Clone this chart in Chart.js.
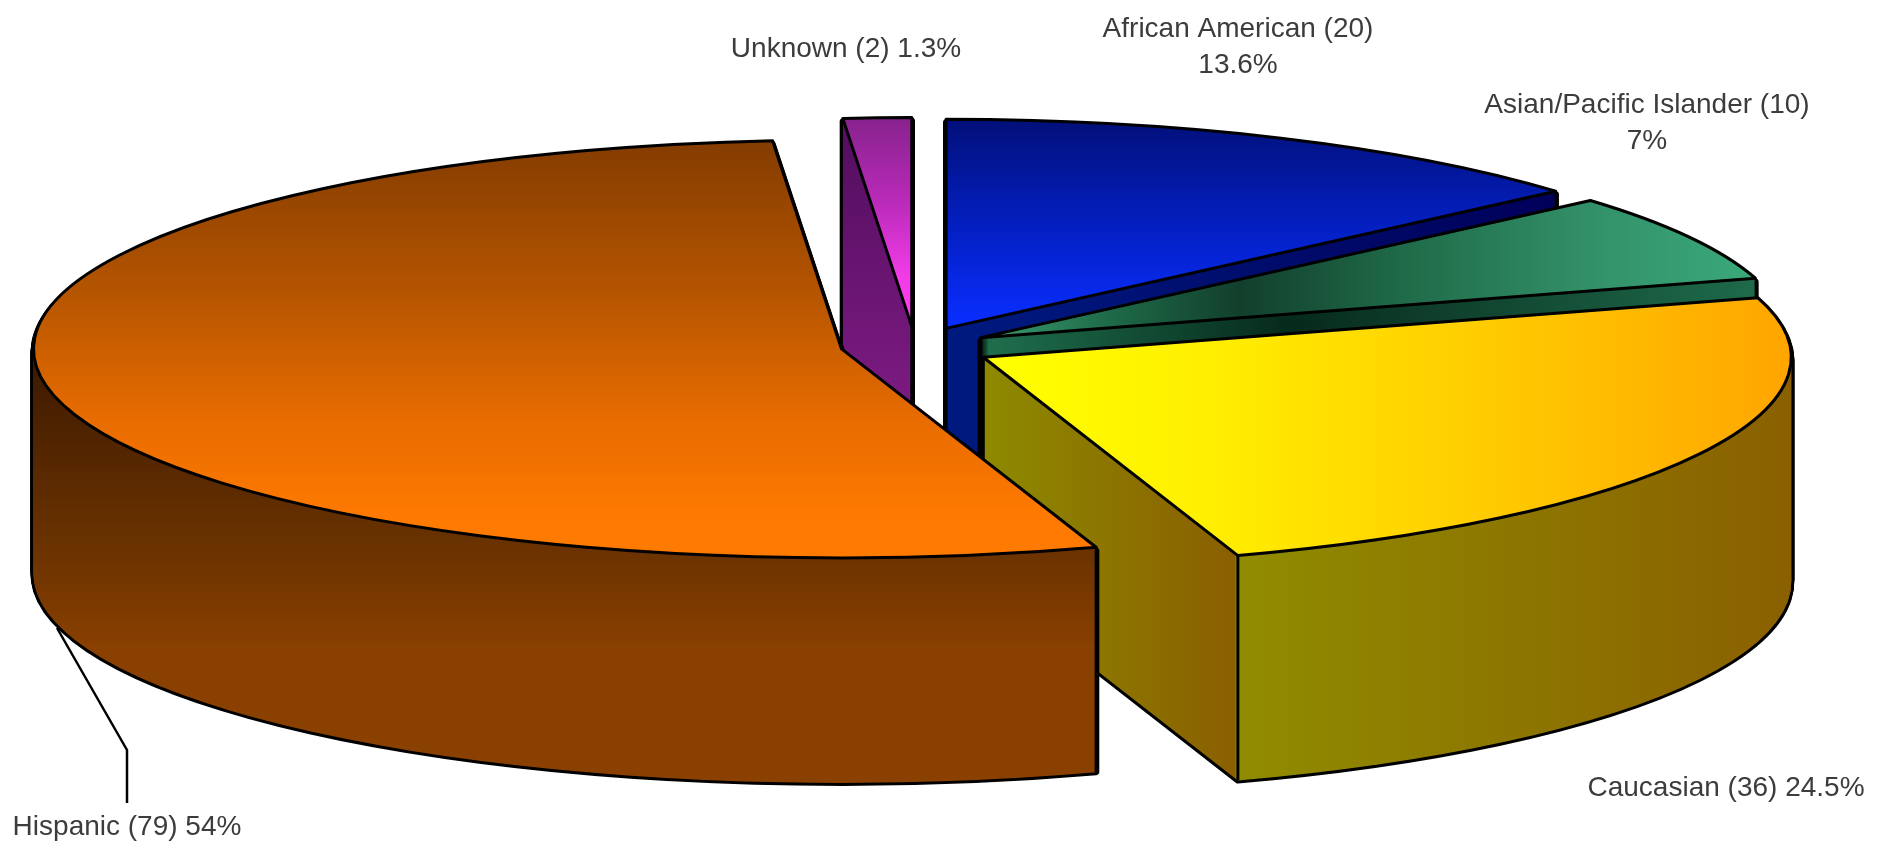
<!DOCTYPE html>
<html>
<head>
<meta charset="utf-8">
<title>Pie</title>
<script src="https://cdn.jsdelivr.net/npm/chart.js@4/dist/chart.umd.js"></script>
<style>
html, body { margin: 0; padding: 0; background: #fff; }
canvas { display: block; }
</style>
</head>
<body>
<canvas id="PieChart" width="1891" height="850"></canvas>
<script>
var categories = ['African American', 'Asian/Pacific Islander', 'Caucasian', 'Hispanic', 'Unknown'];
var counts = [20, 10, 36, 79, 2];
var percents = ['13.6%', '7%', '24.5%', '54%', '1.3%'];

// back to front
var paintOrder = [4, 0, 1, 2, 3];
var explode = [75, 75, 77, 75, 75];
var nudgeY = [0, 1, 2, -1, 0];
var depth = 225;
var squash = 209 / 808;

// [screen coordinate, colour] stops, either along y or along x
var topFaces = [
    { axis: 'y', stops: [[118, '#020f78'], [230, '#0420c4'], [325, '#0a2eff']] },
    { axis: 'x', stops: [[985, '#3a9c70'], [1110, '#1e6a48'], [1240, '#123f2c'], [1400, '#1f6a48'], [1600, '#33926a'], [1750, '#3aa87a']] },
    { axis: 'x', stops: [[990, '#ffff00'], [1200, '#fff000'], [1450, '#ffd000'], [1790, '#ffa500']] },
    { axis: 'y', stops: [[140, '#833c00'], [300, '#b85600'], [420, '#e86c00'], [520, '#ff7a00']] },
    { axis: 'y', stops: [[116, '#86228c'], [200, '#b82ab8'], [277, '#f23ce8'], [315, '#ff3cf0']] }
];
var walls = [
    { axis: 'x', stops: [[945, '#001a80'], [1555, '#00005a']] },
    { axis: 'x', stops: [[985, '#1f6f4d'], [1290, '#062a1c'], [1400, '#0d3a28'], [1755, '#1e6a4a']] },
    { axis: 'x', stops: [[983, '#8e8a00'], [1235, '#8a5f00'], [1236, '#908c00'], [1793, '#8a6000']] },
    { axis: 'y', stops: [[345, '#3a1800'], [560, '#6e3400'], [650, '#8a4000'], [800, '#8a4000']] },
    { axis: 'y', stops: [[150, '#560f62'], [390, '#7a1a80']] }
];

var labelSpots = [
    { x: 1238, y: 29, split: true },
    { x: 1647, y: 105, split: true },
    { x: 1726, y: 788, split: false },
    { x: 127, y: 827, split: false },
    { x: 846, y: 49, split: false }
];

function toSlice(ctx, arc, i, d) {
    var mid = (arc.startAngle + arc.endAngle) / 2;
    ctx.translate(0, arc.y + d + nudgeY[i]);
    ctx.scale(1, squash);
    ctx.translate(0, -arc.y);
    ctx.translate(Math.cos(mid) * explode[i], Math.sin(mid) * explode[i]);
}

function screenGradient(ctx, spec) {
    // stops are given in screen pixels, the fill happens in the slice's local space
    var inv = ctx.getTransform().inverse();
    var first = spec.stops[0][0], last = spec.stops[spec.stops.length - 1][0];
    var a = spec.axis === 'y' ? inv.transformPoint({ x: 0, y: first }) : inv.transformPoint({ x: first, y: 0 });
    var b = spec.axis === 'y' ? inv.transformPoint({ x: 0, y: last }) : inv.transformPoint({ x: last, y: 0 });
    var g = ctx.createLinearGradient(a.x, a.y, b.x, b.y);
    spec.stops.forEach(function (s) { g.addColorStop((s[0] - first) / (last - first), s[1]); });
    return g;
}

function fillLayer(ctx, arc, i, d, spec) {
    var original = arc.options;
    ctx.save();
    toSlice(ctx, arc, i, d);
    arc.options = Object.create(original, { backgroundColor: { value: screenGradient(ctx, spec) } });
    arc.draw(ctx);
    arc.options = original;
    ctx.restore();
}

function strokeLayer(ctx, arc, i, d, width) {
    ctx.save();
    toSlice(ctx, arc, i, d);
    ctx.beginPath();
    ctx.moveTo(arc.x, arc.y);
    ctx.arc(arc.x, arc.y, arc.outerRadius, arc.startAngle, arc.endAngle);
    ctx.closePath();
    ctx.restore();
    ctx.lineWidth = width;
    ctx.lineJoin = 'round';
    ctx.strokeStyle = '#000';
    ctx.stroke();
}

function crease(ctx, arc, i, angle, radius) {
    ctx.save();
    toSlice(ctx, arc, i, 0);
    var m = ctx.getTransform();
    ctx.restore();
    var p = m.transformPoint({ x: arc.x + Math.cos(angle) * radius, y: arc.y + Math.sin(angle) * radius });
    ctx.beginPath();
    ctx.moveTo(p.x, p.y);
    ctx.lineTo(p.x, p.y + depth);
    ctx.lineWidth = 3;
    ctx.strokeStyle = '#000';
    ctx.stroke();
}

var pie3d = {
    id: 'pie3d',
    beforeDatasetsDraw: function (chart) {
        var ctx = chart.ctx;
        var arcs = chart.getDatasetMeta(0).data;
        paintOrder.forEach(function (i) {
            var arc = arcs[i], d;
            for (d = depth; d >= 3; d--) strokeLayer(ctx, arc, i, d, 6);
            for (d = depth; d >= 1; d--) fillLayer(ctx, arc, i, d, walls[i]);
            // only the corners that are not behind the slice's own top face
            var facesDown = arc.startAngle < Math.PI / 2 && arc.endAngle > Math.PI / 2;
            if (!facesDown) crease(ctx, arc, i, arc.startAngle, 0);
            if (Math.sin(arc.startAngle) > 0) crease(ctx, arc, i, arc.startAngle, arc.outerRadius);
            if (Math.sin(arc.endAngle) > 0) crease(ctx, arc, i, arc.endAngle, arc.outerRadius);
            fillLayer(ctx, arc, i, 0, topFaces[i]);
            strokeLayer(ctx, arc, i, 0, 3);
        });
        return false;
    },
    afterDraw: function (chart) {
        var ctx = chart.ctx;
        ctx.save();
        // leader of the Hispanic label
        ctx.beginPath();
        ctx.moveTo(57, 628);
        ctx.lineTo(127, 750);
        ctx.lineTo(127, 803);
        ctx.lineWidth = 2.5;
        ctx.strokeStyle = '#000';
        ctx.stroke();

        ctx.font = '28px "Liberation Sans"';
        ctx.fillStyle = '#3c3c3c';
        ctx.textAlign = 'center';
        ctx.textBaseline = 'middle';
        categories.forEach(function (name, i) {
            var spot = labelSpots[i];
            var head = name + ' (' + counts[i] + ')';
            if (spot.split) {
                ctx.fillText(head, spot.x, spot.y);
                ctx.fillText(percents[i], spot.x, spot.y + 36);
            } else {
                ctx.fillText(head + ' ' + percents[i], spot.x, spot.y);
            }
        });
        ctx.restore();
    }
};

var myPieChart = new Chart(document.getElementById('PieChart'), {
    type: 'pie',
    data: {
        labels: categories,
        datasets: [{ data: counts, borderWidth: 0, backgroundColor: '#888' }]
    },
    options: {
        responsive: false,
        animation: false,
        radius: 808,
        layout: { padding: { right: 61, bottom: 158 } },
        plugins: { legend: { display: false }, tooltip: { enabled: false } }
    },
    plugins: [pie3d]
});
</script>
</body>
</html>
